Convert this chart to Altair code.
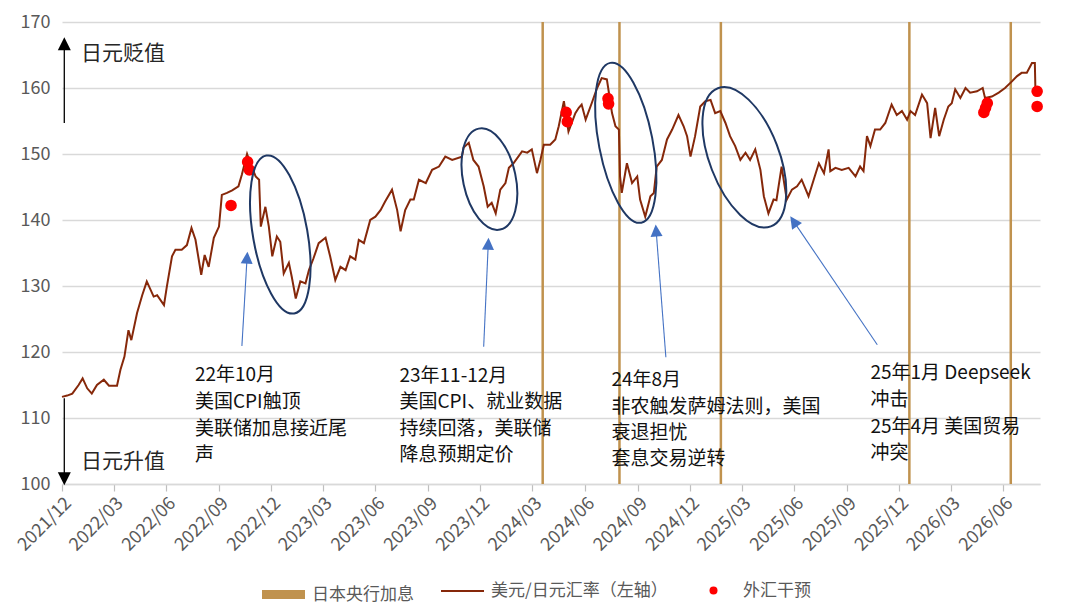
import altair as alt
import pandas as pd

FONT = "Noto Sans CJK SC"

# ---------------- data ----------------
fx_dates = [
    "2021-12-01", "2021-12-10", "2021-12-19", "2021-12-30", "2022-01-06", "2022-01-14", "2022-01-22", "2022-01-31",
    "2022-02-12", "2022-02-21", "2022-03-07", "2022-03-13", "2022-03-20", "2022-03-27", "2022-04-01", "2022-04-11",
    "2022-04-20", "2022-04-28", "2022-05-10", "2022-05-16", "2022-05-28", "2022-06-02", "2022-06-11", "2022-06-17",
    "2022-06-28", "2022-07-07", "2022-07-15", "2022-07-22", "2022-08-01", "2022-08-07", "2022-08-14", "2022-08-23",
    "2022-09-01", "2022-09-06", "2022-09-15", "2022-09-24", "2022-10-05", "2022-10-11", "2022-10-20", "2022-10-26",
    "2022-11-04", "2022-11-10", "2022-11-13", "2022-11-21", "2022-11-27", "2022-12-03", "2022-12-11", "2022-12-17",
    "2022-12-23", "2023-01-01", "2023-01-06", "2023-01-13", "2023-01-21", "2023-01-30", "2023-02-05", "2023-02-13",
    "2023-02-22", "2023-03-06", "2023-03-14", "2023-03-23", "2023-04-01", "2023-04-10", "2023-04-18", "2023-04-27",
    "2023-05-03", "2023-05-12", "2023-05-23", "2023-06-01", "2023-06-10", "2023-06-18", "2023-06-30", "2023-07-09",
    "2023-07-15", "2023-07-23", "2023-08-01", "2023-08-07", "2023-08-16", "2023-08-28", "2023-09-08", "2023-09-20",
    "2023-10-01", "2023-10-13", "2023-10-30", "2023-11-02", "2023-11-11", "2023-11-19", "2023-11-28", "2023-12-07",
    "2023-12-14", "2023-12-21", "2023-12-28", "2024-01-05", "2024-01-14", "2024-01-20", "2024-01-28", "2024-02-12",
    "2024-02-21", "2024-02-29", "2024-03-09", "2024-03-15", "2024-03-21", "2024-04-01", "2024-04-10", "2024-04-16",
    "2024-04-25", "2024-05-03", "2024-05-15", "2024-05-21", "2024-05-26", "2024-06-02", "2024-06-13", "2024-06-22",
    "2024-06-30", "2024-07-09", "2024-07-18", "2024-07-24", "2024-07-30", "2024-08-01", "2024-08-04", "2024-08-13",
    "2024-08-22", "2024-08-31", "2024-09-05", "2024-09-14", "2024-09-23", "2024-09-29", "2024-10-04", "2024-10-13",
    "2024-10-22", "2024-10-31", "2024-11-11", "2024-11-20", "2024-11-26", "2024-12-02", "2024-12-10", "2024-12-19",
    "2024-12-28", "2025-01-06", "2025-01-14", "2025-01-23", "2025-02-01", "2025-02-09", "2025-02-18", "2025-02-27",
    "2025-03-08", "2025-03-16", "2025-03-25", "2025-04-03", "2025-04-09", "2025-04-17", "2025-04-26", "2025-05-01",
    "2025-05-10", "2025-05-19", "2025-05-28", "2025-06-06", "2025-06-14", "2025-06-26", "2025-07-05", "2025-07-14",
    "2025-07-23", "2025-07-31", "2025-08-03", "2025-08-12", "2025-08-23", "2025-09-04", "2025-09-16", "2025-09-24",
    "2025-09-30", "2025-10-06", "2025-10-12", "2025-10-20", "2025-10-29", "2025-11-07", "2025-11-18", "2025-11-27",
    "2025-12-06", "2025-12-15", "2025-12-21", "2025-12-29", "2026-01-10", "2026-01-19", "2026-01-25", "2026-02-02",
    "2026-02-09", "2026-02-17", "2026-02-25", "2026-03-03", "2026-03-09", "2026-03-18", "2026-03-27", "2026-04-04",
    "2026-04-16", "2026-04-26", "2026-04-30", "2026-05-12", "2026-05-24", "2026-06-04", "2026-06-16", "2026-06-25",
    "2026-07-03", "2026-07-12", "2026-07-21", "2026-07-26", "2026-07-27",
]
fx_values = [
    113.2, 113.4, 113.7, 115.0, 116.0, 114.5, 113.7, 115.0,
    115.8, 114.9, 114.9, 117.3, 119.3, 123.3, 121.8, 125.9,
    128.6, 130.7, 128.4, 128.6, 127.1, 129.9, 134.5, 135.5,
    135.5, 136.2, 138.8, 137.0, 131.7, 134.7, 132.9, 137.3,
    139.0, 143.8, 144.1, 144.5, 145.1, 146.9, 150.0, 148.5,
    146.6, 146.1, 139.0, 142.0, 139.0, 134.5, 137.5, 136.7,
    131.9, 133.5, 131.4, 128.1, 130.7, 130.4, 132.4, 134.2,
    136.5, 137.3, 134.5, 130.9, 132.9, 132.4, 134.5, 134.0,
    137.0, 136.5, 140.0, 140.5, 141.5, 142.8, 144.6, 141.5,
    138.3, 141.5, 143.1, 143.1, 146.1, 145.6, 147.6, 148.1,
    149.6, 149.1, 149.6, 151.0, 151.7, 149.1, 148.1, 145.1,
    142.0, 142.6, 141.0, 144.6, 145.6, 147.9, 148.6, 150.4,
    150.2, 150.7, 147.1, 149.1, 151.4, 151.4, 152.2, 154.2,
    158.0, 153.4, 156.2, 157.0, 157.5, 155.2, 157.8, 160.0,
    161.5, 161.3, 156.2, 154.2, 153.7, 146.6, 144.1, 148.6,
    145.6, 146.6, 143.1, 140.5, 143.6, 144.1, 148.1, 149.1,
    152.2, 153.7, 155.9, 154.2, 152.7, 149.6, 152.7, 157.2,
    158.0, 158.2, 156.2, 156.5, 154.7, 152.7, 151.2, 149.1,
    150.2, 149.1, 150.7, 147.6, 143.6, 141.0, 143.1, 143.0,
    148.1, 143.1, 144.6, 145.1, 146.1, 143.6, 146.1, 148.6,
    147.1, 150.7, 147.4, 147.9, 147.6, 147.9, 146.6, 148.1,
    147.4, 152.7, 151.2, 153.7, 153.7, 154.7, 157.5, 155.9,
    156.5, 155.2, 156.5, 155.9, 159.0, 157.7, 152.4, 157.0,
    152.7, 155.2, 157.2, 157.7, 159.8, 158.5, 160.0, 159.3,
    159.5, 160.0, 158.5, 158.7, 159.3, 160.0, 161.0, 161.8,
    162.3, 162.3, 163.8, 163.8, 159.7,
]

boj_dates = ["2024-03-19", "2024-07-31", "2025-01-24", "2025-12-19", "2026-06-14"]

iv_dates = ["2022-09-22", "2022-10-21", "2022-10-24", "2024-04-29", "2024-05-01",
            "2024-07-11", "2024-07-12", "2026-04-28", "2026-05-01", "2026-05-04",
            "2026-07-30", "2026-07-30"]
iv_values = [142.2, 148.8, 147.6, 156.3, 154.9,
             158.4, 157.6, 156.3, 157.0, 157.7,
             159.5, 157.2]

tick_months = ["2021-12", "2022-03", "2022-06", "2022-09", "2022-12", "2023-03", "2023-06",
               "2023-09", "2023-12", "2024-03", "2024-06", "2024-09", "2024-12", "2025-03",
               "2025-06", "2025-09", "2025-12", "2026-03", "2026-06"]
y_ticks = [100, 110, 120, 130, 140, 150, 160, 170]

# annotation ellipses (centre in data space)
ell_dates = ["2022-12-17", "2023-12-17", "2024-08-11", "2025-03-06"]
ell_values = [137.8, 146.2, 151.7, 149.5]

# blue arrows (base -> head)
arr_base_dates = ["2022-10-11", "2023-12-07", "2024-10-20", "2025-10-24"]
arr_base_values = [120.9, 120.8, 119.2, 121.1]
arr_head_dates = ["2022-10-20", "2023-12-15", "2024-10-03", "2025-05-31"]
arr_head_values = [134.3, 136.4, 138.4, 139.8]

# text blocks
ann_lines = [
    "22年10月", "美国CPI触顶", "美联储加息接近尾", "声",
    "23年11-12月", "美国CPI、就业数据", "持续回落，美联储", "降息预期定价",
    "24年8月", "非农触发萨姆法则，美国", "衰退担忧", "套息交易逆转",
    "25年1月 Deepseek", "冲击", "25年4月 美国贸易", "冲突",
]
ann_dates = ["2022-07-21"] * 4 + ["2023-07-13"] * 4 + ["2024-07-17"] * 4 + ["2025-10-12"] * 4
ann_values = [116.5, 112.4, 108.3, 104.4,
              116.4, 112.4, 108.3, 104.4,
              115.8, 111.7, 107.7, 103.8,
              116.8, 112.7, 108.6, 104.7]

dir_labels = ["日元贬值", "日元升值"]
dir_dates = ["2022-01-03", "2022-01-03"]
dir_values = [165.1, 103.3]

blk_base_dates = ["2021-12-05", "2021-12-05"]
blk_base_values = [154.7, 113.0]
blk_head_values = [166.7, 100.8]

LINE_LABEL = "美元/日元汇率（左轴）"
BOJ_LABEL = "日本央行加息"
IV_LABEL = "外汇干预"

# ---------------- styles ----------------
ELL_SHAPES = ["M-1,0A1,0.34 0 1,1 1,0A1,0.34 0 1,1 -1,0Z",
              "M-1,0A1,0.51 0 1,1 1,0A1,0.51 0 1,1 -1,0Z",
              "M-1,0A1,0.33 0 1,1 1,0A1,0.33 0 1,1 -1,0Z",
              "M-1,0A1,0.47 0 1,1 1,0A1,0.47 0 1,1 -1,0Z"]
ELL_SIZES = [25700, 10650, 26500, 21900]
ELL_ANGLES = [80, 78, 79, 69]
ARR_ANGLES = [3.6, 2.6, 355.7, 325.6]
BLK_ANGLES = [0, 180]
TRI = "M0,-1L1,1L-1,1Z"

# ---------------- tables ----------------
fx = pd.DataFrame({"date": fx_dates, "value": fx_values, "s_line": LINE_LABEL})
boj = pd.DataFrame({"date": boj_dates, "s_boj": BOJ_LABEL})
iv = pd.DataFrame({"date": iv_dates, "value": iv_values, "s_iv": IV_LABEL})
ell = pd.DataFrame({"date": ell_dates, "value": ell_values, "shape": ELL_SHAPES,
                    "size": ELL_SIZES, "angle": ELL_ANGLES})
arr = pd.DataFrame({"date": arr_base_dates, "value": arr_base_values,
                    "date2": arr_head_dates, "value2": arr_head_values, "angle": ARR_ANGLES})
blk = pd.DataFrame({"date": blk_base_dates, "value": blk_base_values,
                    "date2": blk_base_dates, "value2": blk_head_values, "angle": BLK_ANGLES})
ann = pd.DataFrame({"date": ann_dates, "value": ann_values, "label": ann_lines})
dirs = pd.DataFrame({"date": dir_dates, "value": dir_values, "label": dir_labels})

x_scale = alt.Scale(type="utc", domain=[alt.DateTime(year=2021, month=12, date=1, utc=True),
                                         alt.DateTime(year=2026, month=8, date=4, utc=True)])
x_axis = alt.Axis(values=[alt.DateTime(year=int(m[:4]), month=int(m[5:]), date=1, utc=True) for m in tick_months],
                  labelExpr="utcFormat(datum.value, '%Y/%m')", labelAngle=-45, labelFontSize=18,
                  labelColor="#595959", labelFont=FONT, grid=False, domainColor="#D9D9D9",
                  domainWidth=1.5, tickColor="#BFBFBF", tickSize=7, tickWidth=1.2,
                  labelPadding=3, labelFlush=False, labelOverlap=False, title=None)
y_scale = alt.Scale(domain=[100, 170], nice=False, zero=False)
y_axis = alt.Axis(values=y_ticks, grid=True, gridColor="#D9D9D9", gridWidth=1.5, domain=False,
                  ticks=False, labelFontSize=18, labelColor="#595959", labelFont=FONT,
                  labelPadding=12, title=None)


def X(field="date"):
    return alt.X(f"{field}:T", scale=x_scale, axis=x_axis)


def Y(field="value"):
    return alt.Y(f"{field}:Q", scale=y_scale, axis=y_axis)


def leg(x, y, **kw):
    return alt.Legend(title=None, orient="none", legendX=x, legendY=y, padding=0,
                      labelFontSize=17, labelColor="#595959", labelFont=FONT, labelLimit=400, **kw)


boj_layer = alt.Chart(boj).mark_rule(strokeWidth=2.5).encode(
    x=X(),
    stroke=alt.Stroke("s_boj:N", scale=alt.Scale(domain=[BOJ_LABEL], range=["#C0924E"]),
                      legend=leg(195.5, 546.5, symbolType="stroke", symbolSize=1849,
                                 symbolStrokeWidth=9, labelOffset=2.5)),
)

line_layer = alt.Chart(fx).mark_line(strokeWidth=2).encode(
    x=X(), y=Y(),
    color=alt.Color("s_line:N", scale=alt.Scale(domain=[LINE_LABEL], range=["#86280A"]),
                    legend=leg(378, 546.5, symbolType="stroke", symbolSize=1849,
                               symbolStrokeWidth=2, labelOffset=6)),
)

iv_layer = alt.Chart(iv).mark_circle(size=135, opacity=1).encode(
    x=X(), y=Y(),
    fill=alt.Fill("s_iv:N", scale=alt.Scale(domain=[IV_LABEL], range=["#FF0000"]),
                  legend=leg(643, 560, symbolType="circle", symbolSize=64, labelOffset=21)),
)

ell_layer = alt.Chart(ell).mark_point(filled=False, color="#1F3864", strokeWidth=2, opacity=1).encode(
    x=X(), y=Y(),
    shape=alt.Shape("shape:N", scale=None),
    size=alt.Size("size:Q", scale=None),
    angle=alt.Angle("angle:Q", scale=None),
)

arr_line = alt.Chart(arr).mark_rule(color="#4472C4", strokeWidth=1.1).encode(
    x=X(), y=Y(), x2="date2:T", y2="value2:Q")
arr_head = alt.Chart(arr).mark_point(shape=TRI, size=144, filled=True, color="#4472C4", opacity=1).encode(
    x=X("date2"), y=Y("value2"), angle=alt.Angle("angle:Q", scale=None))

blk_line = alt.Chart(blk).mark_rule(color="#000000", strokeWidth=1.3).encode(
    x=X(), y=Y(), x2="date2:T", y2="value2:Q")
blk_head = alt.Chart(blk).mark_point(shape=TRI, size=169, filled=True, color="#000000", opacity=1).encode(
    x=X("date2"), y=Y("value2"), angle=alt.Angle("angle:Q", scale=None))

ann_layer = alt.Chart(ann).mark_text(align="left", baseline="middle", font=FONT, fontSize=19,
                                     color="#111111").encode(x=X(), y=Y(), text="label:N")
dir_layer = alt.Chart(dirs).mark_text(align="left", baseline="middle", font=FONT, fontSize=21,
                                      color="#262626").encode(x=X(), y=Y(), text="label:N")

chart = alt.layer(
    boj_layer, line_layer, iv_layer, ell_layer, arr_line, arr_head, blk_line, blk_head,
    ann_layer, dir_layer,
).resolve_legend(color="independent", stroke="independent", fill="independent").properties(
    width=978, height=462,
    autosize=alt.AutoSizeParams(type="none"),
    padding={"left": 54, "top": 14, "right": 32, "bottom": 122},
).configure(font=FONT).configure_view(strokeWidth=0)

chart.save("out.html", embed_options={"renderer": "svg", "actions": False})
